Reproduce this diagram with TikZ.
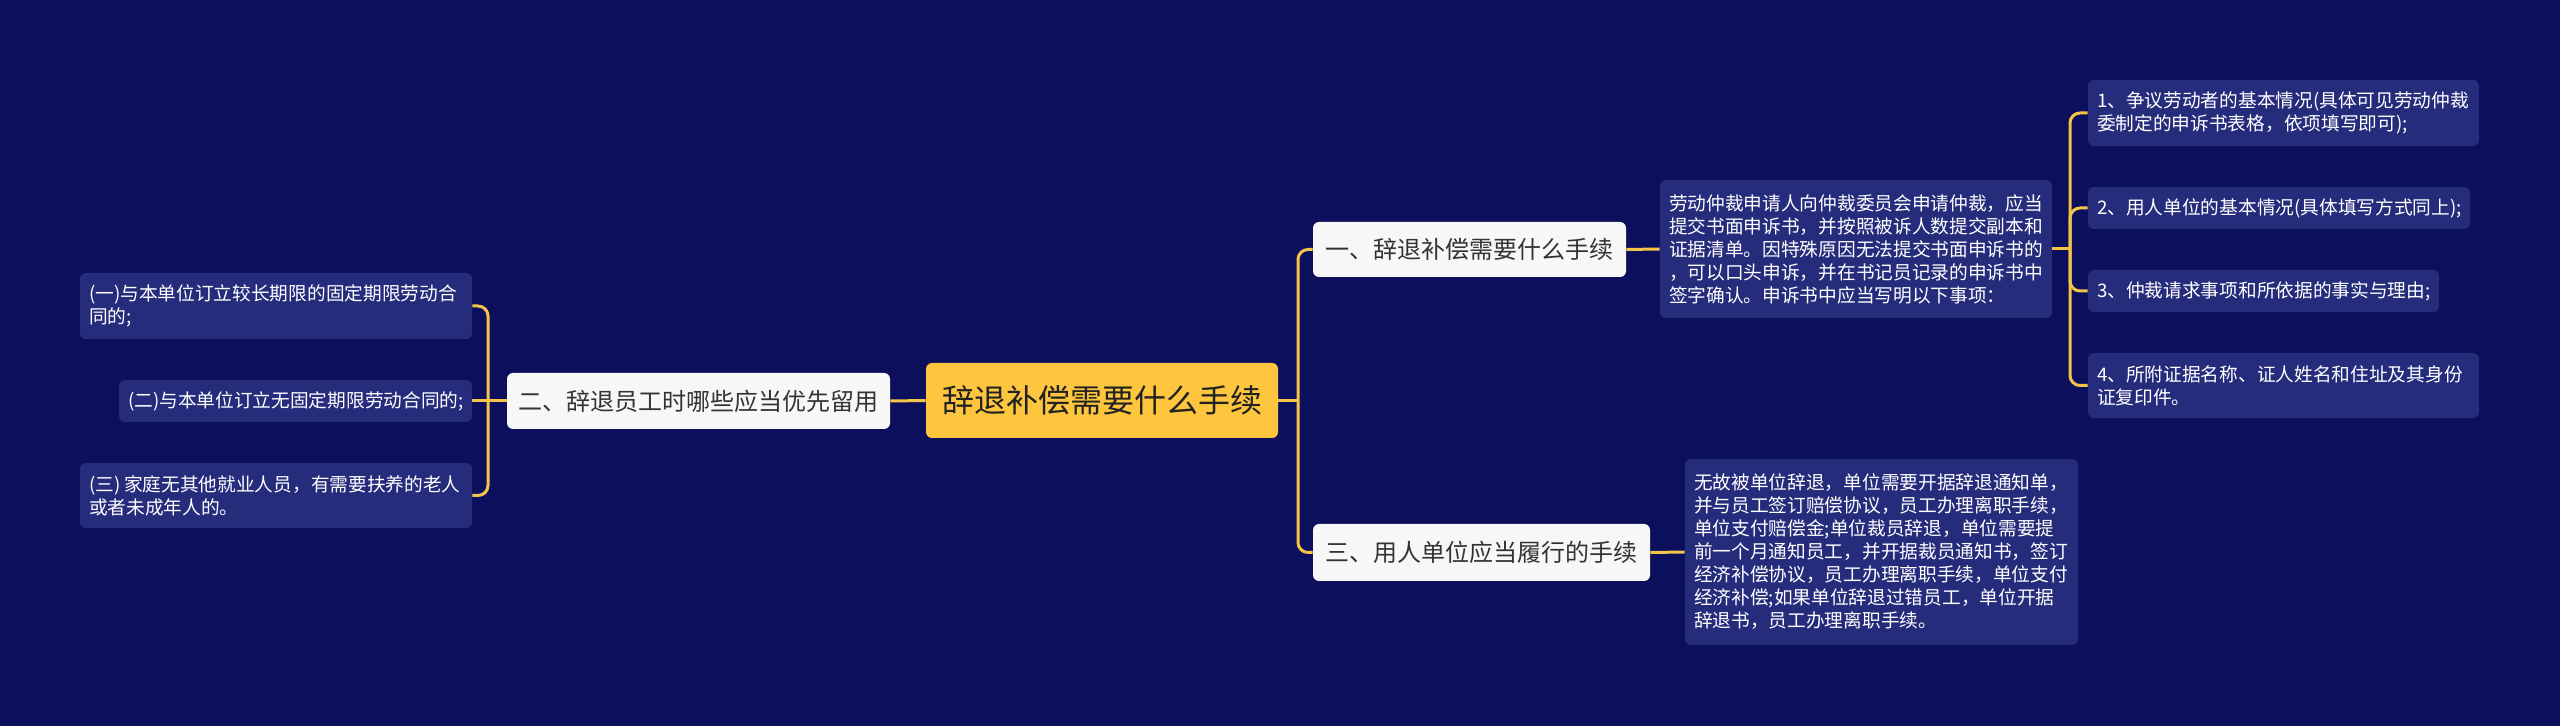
\documentclass[tikz,border=0pt]{standalone}
\usepackage{fontspec}
\setmainfont{Noto Sans CJK SC}
\definecolor{bg}{HTML}{0B0F5C}
\definecolor{leafc}{HTML}{262C7C}
\definecolor{linec}{HTML}{F3C447}
\definecolor{rootc}{HTML}{FDC63E}
\definecolor{whitec}{HTML}{F7F7F7}
\definecolor{textc}{HTML}{333333}
\definecolor{roottext}{HTML}{222222}
\begin{document}
\begin{tikzpicture}[x=0.5pt,y=-0.5pt,
  conn/.style={draw=linec, line width=1.5pt, rounded corners=5pt},
  leaf/.style={fill=leafc, rounded corners=3pt, text=white, font=\fontsize{9.35pt}{11.5pt}\selectfont, align=left, inner xsep=4.5pt, inner ysep=0pt},
  sub/.style={fill=whitec, rounded corners=3pt, text=textc, font=\fontsize{12pt}{14pt}\selectfont, inner sep=0pt},
  root/.style={fill=rootc, rounded corners=3pt, text=roottext, font=\fontsize{16pt}{19pt}\selectfont, inner sep=0pt}]
\path[fill=bg,use as bounding box] (0,0) rectangle (2560,726);

\node[root, minimum width=176pt, minimum height=37.5pt] (root) at (1102,400.5) {辞退补偿需要什么手续};
\node[sub, minimum width=191.5pt, minimum height=28pt] (n2) at (698.5,401) {二、辞退员工时哪些应当优先留用};
\node[sub, minimum width=156.5pt, minimum height=27.5pt] (n1) at (1469.5,249.5) {一、辞退补偿需要什么手续};
\node[sub, minimum width=168.5pt, minimum height=28.5pt] (n3) at (1481.5,552.5) {三、用人单位应当履行的手续};

\node[leaf, text width=187pt, minimum height=69pt] (t1) at (1856,249) {劳动仲裁申请人向仲裁委员会申请仲裁，应当\\提交书面申诉书，并按照被诉人数提交副本和\\证据清单。因特殊原因无法提交书面申诉书的\\，可以口头申诉，并在书记员记录的申诉书中\\签字确认。申诉书中应当写明以下事项：};
\node[leaf, text width=187.5pt, minimum height=93pt] (t3) at (1881.5,552) {无故被单位辞退，单位需要开据辞退通知单，\\并与员工签订赔偿协议，员工办理离职手续，\\单位支付赔偿金;单位裁员辞退，单位需要提\\前一个月通知员工，并开据裁员通知书，签订\\经济补偿协议，员工办理离职手续，单位支付\\经济补偿;如果单位辞退过错员工，单位开据\\辞退书，员工办理离职手续。};

\node[leaf, text width=186.5pt, minimum height=33pt] (r1) at (2283.5,113) {1、争议劳动者的基本情况(具体可见劳动仲裁\\委制定的申诉书表格，依项填写即可);};
\node[leaf, text width=182pt, minimum height=21pt] (r2) at (2279,208) {2、用人单位的基本情况(具体填写方式同上);};
\node[leaf, text width=166.5pt, minimum height=21pt] (r3) at (2263.5,291) {3、仲裁请求事项和所依据的事实与理由;};
\node[leaf, text width=186.5pt, minimum height=32.5pt] (r4) at (2283.5,385.5) {4、所附证据名称、证人姓名和住址及其身份\\证复印件。};

\node[leaf, text width=187pt, minimum height=33pt] (l1) at (276,306) {(一)与本单位订立较长期限的固定期限劳动合\\同的;};
\node[leaf, text width=167.5pt, minimum height=21pt] (l2) at (295.5,401) {(二)与本单位订立无固定期限劳动合同的;};
\node[leaf, text width=187pt, minimum height=32.5pt] (l3) at (276,495.5) {\mbox{(三)\kern0.2em 家庭无其他就业人员，有需要扶养的老人}\\或者未成年人的。};

\coordinate (bx1) at (1298,400.5);
\coordinate (bx2) at (2070,249);
\coordinate (bx3) at (488,401);

\draw[conn] (root.west) -- (n2.east);
\draw[conn] (root.east) -- (bx1);
\draw[conn] (n1.west) -| (bx1) |- (n3.west);
\draw[conn] (n1.east) -- (t1.west);
\draw[conn] (n3.east) -- (t3.west);
\draw[conn] (t1.east) -- (bx2);
\draw[conn] (r1.west) -| (bx2) |- (r4.west);
\draw[conn] (bx2) |- (r2.west);
\draw[conn] (bx2) |- (r3.west);
\draw[conn] (n2.west) -- (bx3);
\draw[conn] (l1.east) -| (bx3) |- (l3.east);
\draw[conn] (bx3) -- (l2.east);
\end{tikzpicture}
\end{document}
